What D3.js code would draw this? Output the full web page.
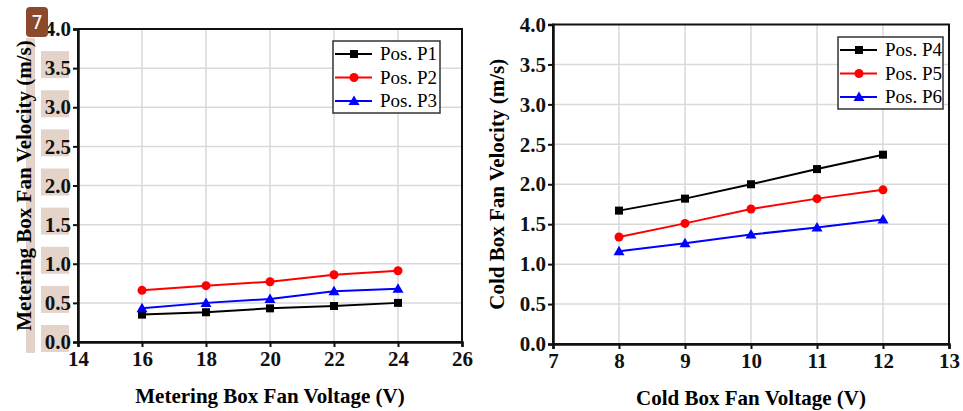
<!DOCTYPE html>
<html>
<head>
<meta charset="utf-8">
<script src="https://cdn.jsdelivr.net/npm/d3@7"></script>
<style>
  body { margin: 0; background: #fff; }
  svg { display: block; }
</style>
</head>
<body>
<svg id="chart" width="963" height="411"></svg>
<script>
// ---- data ----
const meteringVoltage = [16, 18, 20, 22, 24];
const posP1 = [0.35, 0.38, 0.43, 0.46, 0.50];
const posP2 = [0.66, 0.72, 0.77, 0.86, 0.91];
const posP3 = [0.43, 0.50, 0.55, 0.65, 0.68];

const coldVoltage = [8, 9, 10, 11, 12];
const posP4 = [1.67, 1.82, 2.00, 2.19, 2.37];
const posP5 = [1.34, 1.51, 1.69, 1.82, 1.93];
const posP6 = [1.16, 1.26, 1.37, 1.46, 1.56];

const leftXTicks = [14, 16, 18, 20, 22, 24, 26];
const rightXTicks = [7, 8, 9, 10, 11, 12, 13];
const yTicks = [0, 0.5, 1.0, 1.5, 2.0, 2.5, 3.0, 3.5, 4.0];

const SERIF = '"Liberation Serif", "Times New Roman", serif';
const GRID = "#d9d9d9";
const BEIGE = "#e3d3c8";

const svg = d3.select("#chart");

function drawMarker(g, shape, color) {
  if (shape == "square") {
    g.append("rect").attr("x", -4).attr("y", -4).attr("width", 8).attr("height", 8).attr("fill", color);
  } else if (shape == "circle") {
    g.append("circle").attr("r", 4.5).attr("fill", color);
  } else {
    g.append("path").attr("d", "M0,-5.5L5.5,4L-5.5,4Z").attr("fill", color);
  }
}

function drawPanel(cfg) {
  const x = d3.scaleLinear().domain(cfg.xDomain).range([cfg.left, cfg.right]);
  const y = d3.scaleLinear().domain([0, 4]).range([cfg.bottom, cfg.top]);
  const g = svg.append("g");

  // beige highlight behind the left panel labels (annotation in the source)
  if (cfg.highlight) {
    g.append("rect").attr("x", 26).attr("y", 38).attr("width", 9).attr("height", 315).attr("fill", BEIGE);
    g.selectAll("rect.hl").data(yTicks.slice(0, -1)).enter()
      .append("rect").attr("class", "hl")
      .attr("x", 41).attr("width", 28)
      .attr("y", d => y(d) - 17).attr("height", 27)
      .attr("fill", BEIGE);
  }

  // grid
  g.append("g").selectAll("line").data(cfg.xTicks.slice(1, -1)).enter()
    .append("line")
    .attr("x1", d => x(d)).attr("x2", d => x(d))
    .attr("y1", cfg.top).attr("y2", cfg.bottom)
    .attr("stroke", GRID).attr("stroke-width", 1.5);
  g.append("g").selectAll("line").data(yTicks.slice(1, -1)).enter()
    .append("line")
    .attr("x1", cfg.left).attr("x2", cfg.right)
    .attr("y1", d => y(d)).attr("y2", d => y(d))
    .attr("stroke", GRID).attr("stroke-width", 1.5);

  // frame
  g.append("rect")
    .attr("x", cfg.left).attr("y", cfg.top)
    .attr("width", cfg.right - cfg.left).attr("height", cfg.bottom - cfg.top)
    .attr("fill", "none").attr("stroke", "#111").attr("stroke-width", 2);

  // axes
  const xAxis = g.append("g")
    .attr("transform", `translate(0,${cfg.bottom})`)
    .call(d3.axisBottom(x).tickValues(cfg.xTicks).tickFormat(d3.format("d")).tickSize(5).tickPadding(4));
  const yAxis = g.append("g")
    .attr("transform", `translate(${cfg.left},0)`)
    .call(d3.axisLeft(y).tickValues(yTicks).tickFormat(d3.format(".1f")).tickSize(5).tickPadding(2));
  [xAxis, yAxis].forEach(a => {
    a.attr("font-family", SERIF).attr("font-size", 21).attr("font-weight", "bold");
    a.select(".domain").attr("stroke", "#111").attr("stroke-width", 2.5);
    a.selectAll(".tick line").attr("stroke", "#111").attr("stroke-width", 2);
    a.selectAll(".tick text").attr("fill", "#111");
  });

  // series
  cfg.series.forEach(s => {
    const line = d3.line().x((d, i) => x(cfg.xs[i])).y(d => y(d));
    g.append("path").datum(s.values)
      .attr("d", line).attr("fill", "none")
      .attr("stroke", s.color).attr("stroke-width", 2);
    s.values.forEach((v, i) => {
      const m = g.append("g").attr("transform", `translate(${x(cfg.xs[i])},${y(v)})`);
      drawMarker(m, s.shape, s.color);
    });
  });

  // legend
  const lg = g.append("g");
  lg.append("rect")
    .attr("x", cfg.legend.x).attr("y", cfg.legend.y)
    .attr("width", cfg.legend.w).attr("height", cfg.legend.h)
    .attr("fill", "#fff").attr("stroke", "#333").attr("stroke-width", 1.5);
  cfg.series.forEach((s, i) => {
    const ry = cfg.legend.y + 13 + i * 23.5;
    const lx = cfg.legend.x + 2;
    lg.append("line").attr("x1", lx).attr("x2", lx + 37)
      .attr("y1", ry).attr("y2", ry)
      .attr("stroke", s.color).attr("stroke-width", 2);
    drawMarker(lg.append("g").attr("transform", `translate(${lx + 19},${ry})`), s.shape, s.color);
    lg.append("text")
      .attr("x", lx + 45).attr("y", ry + 6)
      .attr("font-family", SERIF).attr("font-size", 19)
      .text(s.name);
  });

  // titles
  g.append("text")
    .attr("x", (cfg.left + cfg.right) / 2).attr("y", cfg.xTitleY)
    .attr("text-anchor", "middle")
    .attr("font-family", SERIF).attr("font-weight", "bold").attr("font-size", 21)
    .text(cfg.xTitle);
  g.append("text")
    .attr("transform", `translate(${cfg.yTitleX},${(cfg.top + cfg.bottom) / 2}) rotate(-90)`)
    .attr("text-anchor", "middle")
    .attr("font-family", SERIF).attr("font-weight", "bold").attr("font-size", 21)
    .text(cfg.yTitle);
}

drawPanel({
  xDomain: [14, 26], xTicks: leftXTicks, xs: meteringVoltage,
  left: 78, right: 462, top: 29, bottom: 342,
  highlight: true,
  xTitle: "Metering Box Fan Voltage (V)", xTitleY: 403,
  yTitle: "Metering Box Fan Velocity (m/s)", yTitleX: 31,
  legend: { x: 333, y: 41, w: 107, h: 72 },
  series: [
    { name: "Pos. P1", values: posP1, color: "#000", shape: "square" },
    { name: "Pos. P2", values: posP2, color: "#ff0000", shape: "circle" },
    { name: "Pos. P3", values: posP3, color: "#0000ff", shape: "triangle" }
  ]
});

drawPanel({
  xDomain: [7, 13], xTicks: rightXTicks, xs: coldVoltage,
  left: 553, right: 949, top: 24.5, bottom: 344,
  highlight: false,
  xTitle: "Cold Box Fan Voltage (V)", xTitleY: 405,
  yTitle: "Cold Box Fan Velocity (m/s)", yTitleX: 504,
  legend: { x: 838, y: 37, w: 105, h: 72 },
  series: [
    { name: "Pos. P4", values: posP4, color: "#000", shape: "square" },
    { name: "Pos. P5", values: posP5, color: "#ff0000", shape: "circle" },
    { name: "Pos. P6", values: posP6, color: "#0000ff", shape: "triangle" }
  ]
});

// page number badge from the source image
svg.append("rect").attr("x", 26).attr("y", 7).attr("width", 22).attr("height", 30)
  .attr("rx", 4).attr("fill", "#8b4a2b");
svg.append("text").attr("x", 37).attr("y", 29).attr("text-anchor", "middle")
  .attr("font-family", "DejaVu Sans, sans-serif").attr("font-size", 19).attr("fill", "#fff")
  .text("7");
</script>
</body>
</html>
